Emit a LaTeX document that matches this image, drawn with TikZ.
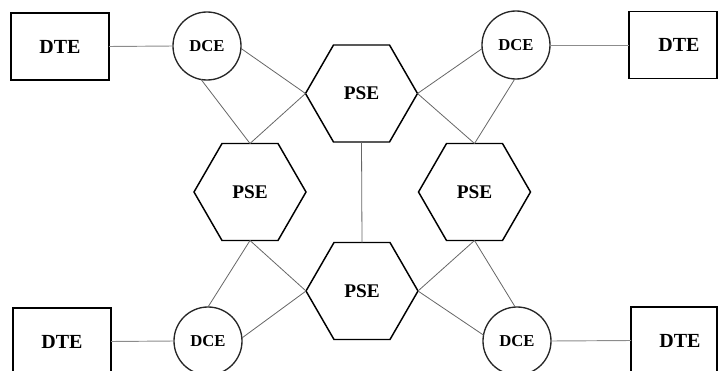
\documentclass[tikz,border=0pt]{standalone}
\usepackage{fontspec}
\setmainfont{Liberation Serif}
\usetikzlibrary{shapes.geometric}

\tikzset{
  dtebox/.style={draw=black, line width=1pt, minimum width=73.5pt, minimum height=50.25pt,
                 inner sep=0pt, outer sep=0pt, font=\fontsize{15}{15}\selectfont\bfseries},
  dcecirc/.style={circle, draw=black!85, line width=1pt, minimum size=51pt,
                  inner sep=0pt, outer sep=0pt, font=\fontsize{12.5}{12.5}\selectfont\bfseries},
  psehex/.style={regular polygon, regular polygon sides=6, draw=black, line width=1.1pt,
                 minimum size=84pt, inner sep=0pt, outer sep=0pt,
                 font=\fontsize{14.5}{14.5}\selectfont\bfseries},
  link/.style={draw=black!60, line width=0.6pt},
  tail/.style={draw=black!45, line width=0.7pt}
}

\begin{document}
\begin{tikzpicture}[x=0.75pt, y=-0.75pt]
  \useasboundingbox (0,0) rectangle (718,371);

  % exchanges
  \node[psehex] (pt) at (361.5,93.5) {PSE};
  \node[psehex] (pl) at (250,192) {PSE};
  \node[psehex] (pr) at (474.5,192) {PSE};
  \node[psehex] (pb) at (362,291) {PSE};

  % circuit-terminating equipment
  \node[dcecirc] (ctl) at (207,46) {DCE};
  \node[dcecirc] (ctr) at (516,45) {DCE};
  \node[dcecirc] (cbl) at (208,341) {DCE};
  \node[dcecirc] (cbr) at (517,341) {DCE};

  % terminals
  \node[dtebox] (ttl) at (60,46.5) {DTE};
  \node[dtebox, minimum width=66pt] (ttr) at (673,45) {\hspace*{9pt}DTE};
  \node[dtebox] (tbl) at (62,341.5) {DTE};
  \node[dtebox, minimum width=64.5pt] (tbr) at (674,340.5) {\hspace*{9pt}DTE};

  % terminal to DCE
  \draw[tail] (ttl.east) -- (ctl.west);
  \draw[tail] (ctr.east) -- (ttr.west);
  \draw[tail] (tbl.east) -- (cbl.west);
  \draw[tail] (cbr.east) -- (tbr.west);

  % upper left
  \draw[link] (ctl.-4) -- (pt.west);
  \draw[link] (ctl.-100) -- (pl.north);
  \draw[link] (pt.west) -- (pl.north);

  % upper right
  \draw[link] (ctr.186) -- (pt.east);
  \draw[link] (ctr.-92) -- (pr.north);
  \draw[link] (pt.east) -- (pr.north);

  % trunk
  \draw[link] (pt.south) -- (pb.north);

  % lower left
  \draw[link] (pl.south) -- (cbl.90);
  \draw[link] (pl.south) -- (pb.west);
  \draw[link] (pb.west) -- (cbl.5);

  % lower right
  \draw[link] (pr.south) -- (cbr.93);
  \draw[link] (pr.south) -- (pb.east);
  \draw[link] (pb.east) -- (cbr.170);
\end{tikzpicture}
\end{document}
